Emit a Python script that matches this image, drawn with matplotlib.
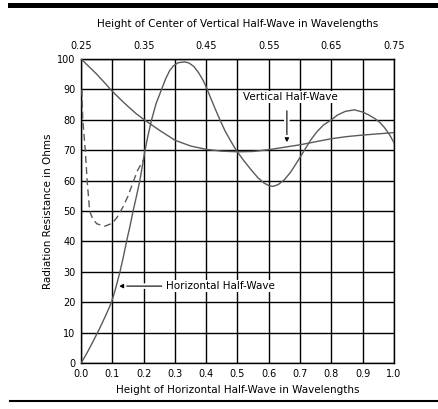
import matplotlib
matplotlib.use('Agg')
import matplotlib.pyplot as plt
import matplotlib.patheffects as pe
from matplotlib.lines import Line2D

# 垂直半波
vert_x = [0.0, 0.025, 0.05, 0.075, 0.094, 0.125, 0.15, 0.175, 0.205, 0.25,
          0.3, 0.35, 0.4, 0.45, 0.5, 0.55, 0.6, 0.65, 0.7, 0.75, 0.8,
          0.85, 0.9, 0.95, 1.0]
vert_r = [100, 97.5, 95, 92.2, 90, 86.8, 84.4, 82.1, 79.8, 76.6,
          73.3, 71.4, 70.3, 69.7, 69.5, 69.6, 70.2, 71.0, 71.8, 72.8, 73.8,
          74.5, 75.0, 75.4, 75.8]

# 水平半波 (实线)
horz_x = [0.0, 0.02, 0.04, 0.06, 0.08, 0.097, 0.11, 0.124, 0.135, 0.145,
          0.156, 0.166, 0.177, 0.1875, 0.196, 0.204, 0.214, 0.225, 0.24, 0.257,
          0.27, 0.283, 0.295, 0.31, 0.331, 0.345, 0.36, 0.375, 0.39, 0.4,
          0.415, 0.43, 0.443, 0.46, 0.478, 0.496, 0.52, 0.545, 0.565, 0.585,
          0.6, 0.613, 0.63, 0.65, 0.67, 0.69, 0.714, 0.735, 0.755, 0.775,
          0.8, 0.82, 0.845, 0.874, 0.9, 0.92, 0.94, 0.955, 0.97, 0.986, 1.0]
horz_r = [0, 3.6, 7.5, 11.6, 16, 20, 24.5, 30, 35, 40,
          45, 50, 55, 60, 65, 70, 75, 80, 85.5, 90,
          93.5, 96.2, 97.8, 98.8, 99.1, 98.7, 97.6, 95.6, 93, 90.8,
          87, 83.3, 80.2, 76.4, 73.1, 70, 66.6, 63.4, 61, 59.2,
          58.4, 58.1, 58.7, 60.3, 62.8, 66, 70, 73.5, 76.2, 78.3,
          80, 81.6, 82.8, 83.3, 82.6, 81.6, 80.4, 79.2, 77.5, 75.2, 72.6]

# 水平半波 (虚线)
dash_x = [0.002, 0.005, 0.013, 0.019, 0.027, 0.037, 0.05, 0.075, 0.1,
          0.115, 0.134, 0.15, 0.166, 0.18, 0.2]
dash_r = [90, 80, 70, 60, 50, 47.4, 45.8, 45, 46, 48, 51.4, 55, 59.5, 63.3, 67]

bottom_ticks = [0.0, 0.1, 0.2, 0.3, 0.4, 0.5, 0.6, 0.7, 0.8, 0.9, 1.0]
top_ticks = [0.25, 0.35, 0.45, 0.55, 0.65, 0.75]
y_ticks = [0, 10, 20, 30, 40, 50, 60, 70, 80, 90, 100]

plt.rcParams['font.family'] = 'DejaVu Sans'
plt.rcParams['font.size'] = 7

fig = plt.figure(figsize=(4.39, 4.09), dpi=100)
ax = fig.add_axes([0.185, 0.1125, 0.712, 0.743])

curve_color = '#5a5a5a'
ax.plot(vert_x, vert_r, color=curve_color, lw=1.0, zorder=3)
ax.plot(horz_x, horz_r, color=curve_color, lw=1.0, zorder=3)
ax.plot(dash_x, dash_r, color=curve_color, lw=1.0, ls=(0, (5, 3)), zorder=3)

ax.set_xlim(0, 1.0)
ax.set_ylim(0, 100)
ax.set_xticks(bottom_ticks)
ax.set_xticklabels([f'{t:.1f}' for t in bottom_ticks])
ax.set_yticks(y_ticks)
ax.tick_params(length=0, pad=4)
ax.grid(True, color='black', lw=1.0, zorder=1)
ax.set_axisbelow(True)
for s in ax.spines.values():
    s.set_linewidth(1.0)

ax.set_xlabel('Height of Horizontal Half-Wave in Wavelengths', labelpad=5, fontsize=7.5)
ax.set_ylabel('Radiation Resistance in Ohms', labelpad=3, fontsize=7.5)

# 顶部坐标轴: 垂直半波中心高度
top = ax.secondary_xaxis('top', functions=(lambda h: 0.25 + h / 2, lambda v: (v - 0.25) * 2))
top.set_xticks(top_ticks)
top.set_xticklabels([f'{t:.2f}' for t in top_ticks])
top.tick_params(length=0, pad=6)
top.set_xlabel('Height of Center of Vertical Half-Wave in Wavelengths', labelpad=10, fontsize=7.5)

white = [pe.withStroke(linewidth=4, foreground='white')]
ax.annotate('Horizontal Half-Wave', xy=(0.121, 25.3), xytext=(0.27, 25.3),
            va='center', ha='left', fontsize=7.5,
            bbox=dict(boxstyle='square,pad=0.1', fc='white', ec='none'),
            arrowprops=dict(arrowstyle='-|>', color='black', lw=0.8,
                            mutation_scale=6, shrinkA=2, shrinkB=0,
                            path_effects=white),
            zorder=4)
ax.annotate('Vertical Half-Wave', xy=(0.658, 72.4), xytext=(0.516, 87.5),
            va='center', ha='left', color='black', fontsize=7.5,
            bbox=dict(boxstyle='square,pad=0.1', fc='white', ec='none'),
            zorder=4)
ax.annotate('', xy=(0.658, 72.6), xytext=(0.658, 83),
            arrowprops=dict(arrowstyle='-|>', color='black', lw=0.8,
                            mutation_scale=6, shrinkA=0, shrinkB=0,
                            path_effects=white),
            zorder=4)

# 上下两条黑色横线
fig.add_artist(Line2D([0.023, 1.0], [0.988, 0.988], color='black', lw=3.6))
fig.add_artist(Line2D([0.023, 1.0], [0.0196, 0.0196], color='black', lw=1.5))

fig.savefig('out.png', dpi=100)
